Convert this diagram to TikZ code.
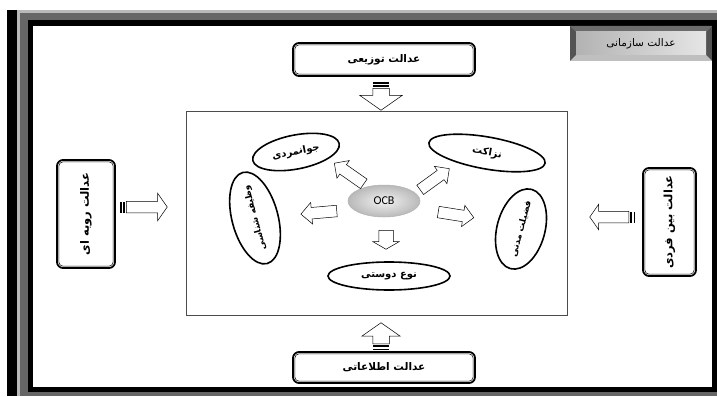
\documentclass[tikz,border=0pt]{standalone}
\usepackage{fontspec}
\usepackage{graphicx}
\usepackage{tikz}
\usetikzlibrary{shapes.geometric, shapes.arrows}
\newfontfamily\fa[Script=Arabic]{DejaVu Sans}
\newfontfamily\lat{Carlito}
\TeXXeTstate=1

\begin{document}
\begin{tikzpicture}[x=1pt, y=-1pt,
    justbox/.style={draw, line width=1.8pt, rounded corners=6pt, fill=white, inner sep=0pt, font=\fa\bfseries\fontsize{10.5}{12}\selectfont},
    trait/.style={ellipse, draw, line width=1.6pt, fill=white, inner sep=0pt, font=\fa\bfseries\fontsize{10}{11}\selectfont},
    bigarrow/.style={single arrow, draw, line width=0.5pt, fill=white, inner xsep=0pt, single arrow tip angle=110},
    smallarrow/.style={single arrow, draw, line width=0.5pt, fill=white, inner xsep=0pt, inner ysep=5.5pt, single arrow head extend=5pt, minimum height=36pt, single arrow tip angle=90}]
\useasboundingbox (0,0) rectangle (717,396);
% frame
\fill[white] (0,0) rectangle (717,396);
\fill[black] (7,10) rectangle (17,396);
\fill[gray!55] (17,10) rectangle (717,396);
\fill[gray!80!black] (20,13) rectangle (717,396);
\fill[black] (28,20) rectangle (717,392);
\fill[white] (33,26) rectangle (712,387);
% title
\fill[gray!65!black] (570,26) rectangle (712,61);
\fill[gray!85!black] (570,26) -- (712,26) -- (706,32) -- (576,32) -- cycle;
\fill[gray!50] (570,61) -- (712,61) -- (706,55) -- (576,55) -- cycle;
\shade[left color=gray!60, right color=gray!20] (576,32) rectangle (706,55);
\node[font=\fa\fontsize{10.5}{12}\selectfont] (title) at (641,43.5) {\beginR عدالت سازمانی\endR};

\draw[gray!60!black, line width=0.6pt] (186,111) rectangle (567,315);

\node[justbox, minimum width=182pt, minimum height=33pt] (distrib) at (384,59.5) {\beginR عدالت توزیعی\endR};
\node[justbox, minimum width=182pt, minimum height=31pt] (inform) at (384,367.5) {\beginR عدالت اطلاعاتی\endR};
\node[justbox, minimum width=58pt, minimum height=108pt, font=\fa\bfseries\fontsize{11.5}{13}\selectfont] (proced) at (86,214) {\rotatebox{90}{\beginR عدالت رویه ای\endR}};
\node[justbox, minimum width=53pt, minimum height=108pt, font=\fa\bfseries\fontsize{11.5}{13}\selectfont] (interp) at (669.5,222) {\rotatebox{90}{\beginR عدالت بین فردی\endR}};
\foreach \b in {distrib, inform, proced, interp}
  \draw[line width=0.5pt, rounded corners=4pt] ([xshift=2.8pt, yshift=-2.8pt]\b.north west) rectangle ([xshift=-2.8pt, yshift=2.8pt]\b.south east);

\foreach \nm/\tx/\ty/\ang/\len/\sw/\hw in {intop/381/82/-90/22/8/13, inbot/381/350/90/21/8/11, inleft/120/207/0/41/5.5/8, inright/635/217/180/39/5.5/7}{
  \begin{scope}[shift={(\tx,\ty)}, rotate=\ang, transform shape]
    \fill (0,-\sw) rectangle (1.5,\sw);
    \fill (3,-\sw) rectangle (5,\sw);
    \node[bigarrow, inner ysep=\sw pt, single arrow head extend=\hw pt, minimum height=\len pt, anchor=tail] (\nm) at (6,0) {};
  \end{scope}
}

\node[ellipse, draw=gray!60, line width=0.5pt, inner color=gray!10, outer color=gray!55, minimum width=72pt, minimum height=32pt, font=\lat\fontsize{12}{13}\selectfont] (ocb) at (384,201) {OCB};
\node[trait, minimum width=88pt, minimum height=34pt, rotate=11] (javan) at (296,152) {\beginR جوانمردی\endR};
\node[trait, minimum width=118pt, minimum height=32pt, rotate=-10] (nezak) at (487,153) {\beginR نزاکت\endR};
\node[trait, minimum width=86pt, minimum height=46pt, rotate=105, font=\fa\bfseries\fontsize{9}{10}\selectfont] (vazif) at (255,218) {\beginR وظیفه شناسی\endR};
\node[trait, minimum width=72pt, minimum height=48pt, rotate=75, font=\fa\bfseries\fontsize{9}{10}\selectfont] (fazil) at (521,229) {\beginR فضیلت مدنی\endR};
\node[trait, minimum width=122pt, minimum height=28pt] (nowdo) at (389,276) {\beginR نوع دوستی\endR};

\node[smallarrow, rotate=145, anchor=tail] (tojavan) at (364,184) {};
\node[smallarrow, rotate=36, anchor=tail] (tonezak) at (420,190) {};
\node[smallarrow, rotate=185, anchor=tail] (tovazif) at (337,211) {};
\node[smallarrow, rotate=-9, anchor=tail] (tofazil) at (438,212) {};
\node[smallarrow, rotate=-90, anchor=tail, inner ysep=7pt, single arrow head extend=6pt, minimum height=19pt, single arrow tip angle=120] (tonowdo) at (386,230) {};
\end{tikzpicture}
\end{document}
